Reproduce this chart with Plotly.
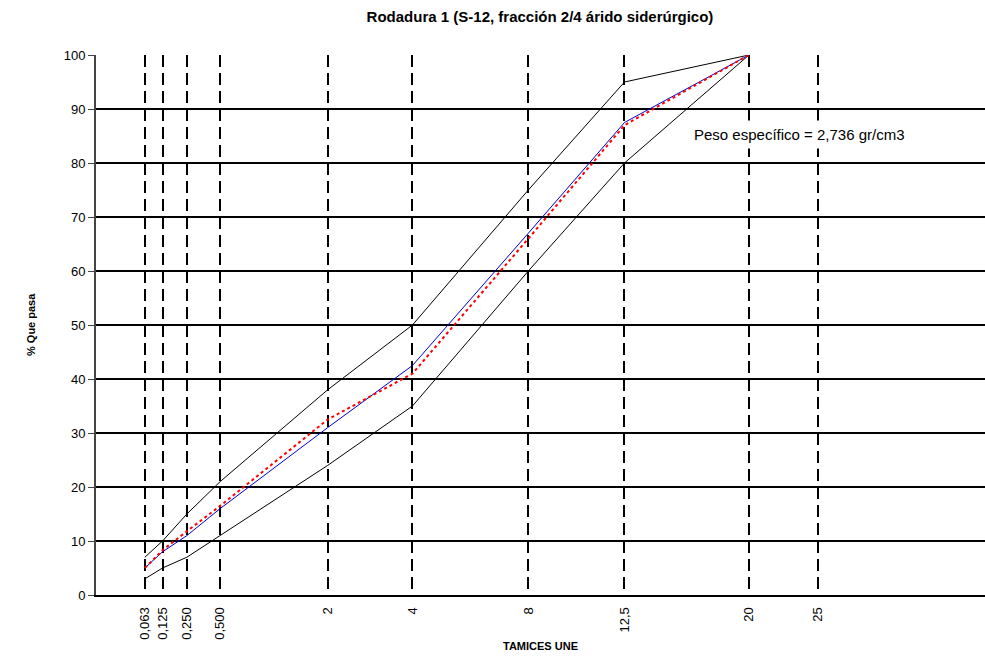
import plotly.graph_objects as go

# Sieve sizes (mm) and passing percentages
sieves = [0.063, 0.125, 0.25, 0.5, 2, 4, 8, 12.5, 20]
upper_limit = [7, 10, 15, 21, 38, 50, 75, 95, 100]
lower_limit = [3, 5, 7, 11, 24, 35, 60, 80, 100]
mix_curve = [5, 8, 11, 16, 31, 42.5, 67, 87.5, 100]
design_curve = [5, 8.3, 11.8, 16.5, 32.5, 41, 66, 87, 100]

tick_sieves = [0.063, 0.125, 0.25, 0.5, 2, 4, 8, 12.5, 20, 25]
tick_labels = ["0,063", "0,125", "0,250", "0,500", "2", "4", "8", "12,5", "20", "25"]

EXP = 0.45  # Fuller-type power scale for sieve axis


def tr(vals):
    return [v ** EXP for v in vals]


FONT = "Liberation Sans, Arial, sans-serif"

fig = go.Figure()
fig.add_trace(go.Scatter(x=tr(sieves), y=upper_limit, mode="lines",
                         line=dict(color="black", width=1), showlegend=False))
fig.add_trace(go.Scatter(x=tr(sieves), y=lower_limit, mode="lines",
                         line=dict(color="black", width=1), showlegend=False))
fig.add_trace(go.Scatter(x=tr(sieves), y=mix_curve, mode="lines",
                         line=dict(color="#0000cc", width=1), showlegend=False))
fig.add_trace(go.Scatter(x=tr(sieves), y=design_curve, mode="lines",
                         line=dict(color="#ff0000", width=2, dash="dot"), showlegend=False))

fig.update_layout(
    width=985, height=656,
    margin=dict(l=96, r=0, t=55, b=61),
    paper_bgcolor="white", plot_bgcolor="white",
    font=dict(family=FONT, size=13, color="black"),
    title=dict(text="<b>Rodadura 1 (S-12, fracción 2/4 árido siderúrgico)</b>",
               x=540 / 985, xanchor="center", y=1 - 17 / 656, yanchor="middle",
               font=dict(family=FONT, size=15, color="black")),
    xaxis=dict(range=[0, 889 / 169.6], tickmode="array", tickvals=tr(tick_sieves),
               ticktext=tick_labels, tickangle=-90, ticks="outside", ticklen=5,
               tickcolor="rgba(0,0,0,0)", showgrid=True,
               gridcolor="black", gridwidth=2, griddash="12px,6px", zeroline=False,
               showline=True, linecolor="black", linewidth=2, automargin=False,
               tickfont=dict(family=FONT, size=13, color="black")),
    yaxis=dict(range=[0, 100], tickmode="array", tickvals=list(range(0, 101, 10)),
               showgrid=True, gridcolor="black", gridwidth=2, zeroline=False,
               showline=True, linecolor="#444", linewidth=2, ticks="outside",
               ticklen=6, tickcolor="#444", tickwidth=1, automargin=False,
               tickfont=dict(family=FONT, size=13, color="black")),
    annotations=[
        dict(text="<b>TAMICES UNE</b>", xref="paper", yref="paper", x=0.5,
             y=-51 / 540, xanchor="center", yanchor="middle", showarrow=False,
             font=dict(family=FONT, size=11, color="black")),
        dict(text="<b>% Que pasa</b>", xref="paper", yref="paper", x=-65 / 889,
             y=0.5, xanchor="center", yanchor="middle", textangle=-90,
             showarrow=False, font=dict(family=FONT, size=11, color="black")),
        dict(text="Peso específico = 2,736 gr/cm3", xref="x", yref="y",
             x=(688 - 96) / 169.6, y=85.2, xanchor="left", yanchor="middle",
             showarrow=False, bgcolor="white", borderpad=5,
             font=dict(family=FONT, size=15, color="black")),
    ],
)

fig.write_html("out.html")
